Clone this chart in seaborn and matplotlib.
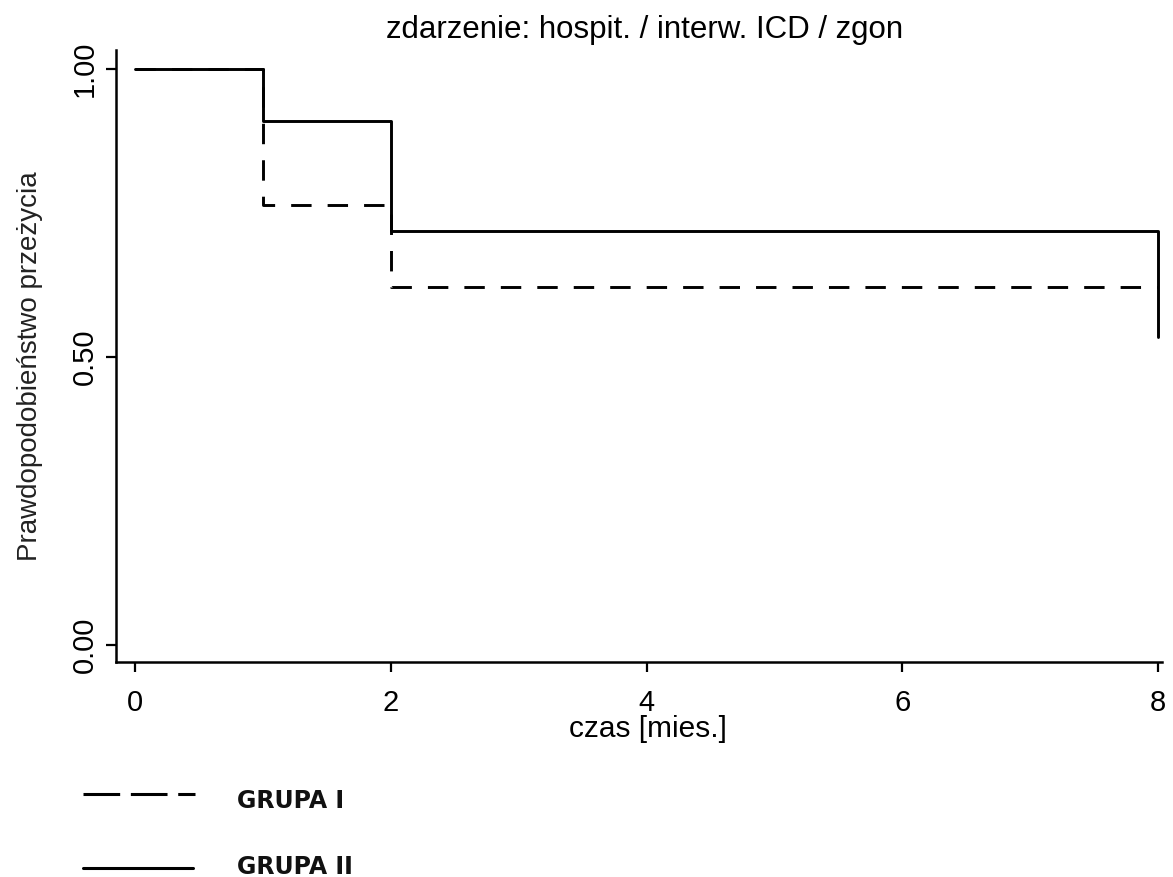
import matplotlib
matplotlib.use("Agg")
import matplotlib.pyplot as plt
from matplotlib.lines import Line2D
import seaborn as sns
import pandas as pd

# Data (Kaplan-Meier steps)
time_g1 = [0, 1, 2, 8]
surv_g1 = [1.00, 0.764, 0.621, 0.621]
time_g2 = [0, 1, 2, 8, 8]
surv_g2 = [1.00, 0.910, 0.719, 0.719, 0.535]
groups = ["GRUPA I", "GRUPA II"]
x_ticks = [0, 2, 4, 6, 8]
y_ticks = [0.0, 0.5, 1.0]
y_tick_labels = ["0.00", "0.50", "1.00"]

sns.set_theme(style="white")
plt.rcParams['font.family'] = ['Liberation Sans', 'DejaVu Sans']

df = pd.concat([
    pd.DataFrame({"czas": time_g1, "surv": surv_g1, "grupa": groups[0]}),
    pd.DataFrame({"czas": time_g2, "surv": surv_g2, "grupa": groups[1]}),
], ignore_index=True)

W, H = 1173, 877
fig = plt.figure(figsize=(W / 100, H / 100), dpi=100)
ax = fig.add_axes([116 / W, 1 - 662 / H, 1046 / W, 612 / H])

sns.lineplot(data=df, x="czas", y="surv", hue="grupa", style="grupa",
             palette={groups[0]: "black", groups[1]: "black"},
             dashes={groups[0]: (7, 5.5), groups[1]: ""},
             estimator=None, sort=False, drawstyle="steps-post",
             linewidth=2.1, ax=ax, legend=False)

ax.set_xlim(-0.149, 8.03)
ax.set_ylim(-0.0295, 1.033)
ax.set_xticks(x_ticks)
ax.set_xticklabels([str(t) for t in x_ticks], fontsize=21)
ax.set_yticks(y_ticks)
ax.set_yticklabels(y_tick_labels, fontsize=21, rotation=90, va="center")
ax.tick_params(axis="x", direction="out", length=7.5, width=1.6,
               color="black", labelcolor="black", bottom=True, pad=12)
ax.tick_params(axis="y", direction="out", length=7.5, width=1.6,
               color="black", labelcolor="black", left=True, pad=5)
for s in ["top", "right"]:
    ax.spines[s].set_visible(False)
for s in ["left", "bottom"]:
    ax.spines[s].set_color("black")
    ax.spines[s].set_linewidth(1.8)

ax.set_xlabel("czas [mies.]", fontsize=21.5, color="black")
ax.xaxis.label.set_va("baseline")
ax.xaxis.set_label_coords((647.5 - 116) / 1046, (662 - 737) / 612)

ax.set_ylabel("Prawdopodobieństwo przeżycia", fontsize=20, color="#222222")
ax.yaxis.label.set_va("baseline")
ax.yaxis.set_label_coords((37 - 116) / 1046, (662 - 366.5) / 612)

fig.text(645 / W, 1 - 38 / H, "zdarzenie: hospit. / interw. ICD / zgon",
         fontsize=22.5, ha="center", va="baseline", color="black")

# Legend (below the plot, manually laid out like the original)
fig.add_artist(Line2D([83 / W, 195 / W], [1 - 794 / H, 1 - 794 / H],
                      transform=fig.transFigure, color="black", lw=2.2,
                      linestyle=(0, (12, 3.5))))
fig.add_artist(Line2D([83 / W, 193 / W], [1 - 868 / H, 1 - 868 / H],
                      transform=fig.transFigure, color="black", lw=2.2))
legend_font = {"family": "DejaVu Sans", "weight": "bold", "size": 17}
fig.text(237 / W, 1 - 808 / H, groups[0], fontdict=legend_font,
         ha="left", va="baseline", color="#111111")
fig.text(237 / W, 1 - 874 / H, groups[1], fontdict=legend_font,
         ha="left", va="baseline", color="#111111")

plt.savefig("out.png", dpi=100)
